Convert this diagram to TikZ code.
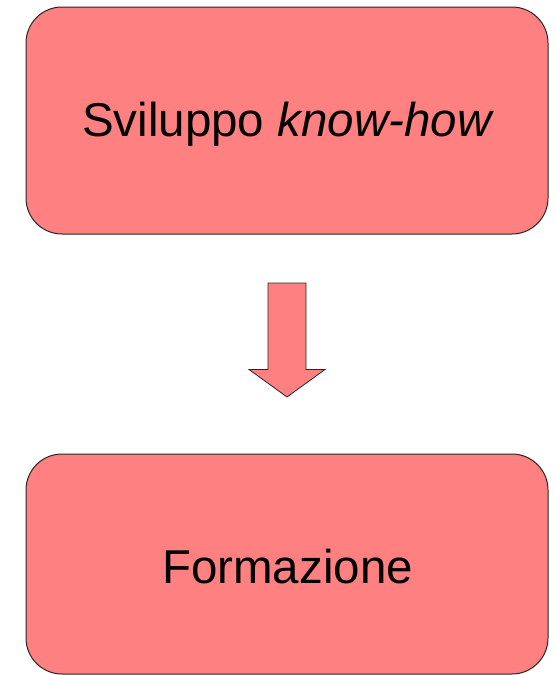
\documentclass[tikz,border=0pt]{standalone}
\usepackage{fontspec}
\setmainfont{Liberation Sans}
\definecolor{rosa}{HTML}{FF8080}
\tikzset{
	caja/.style={draw=black!85, fill=rosa, line width=1pt, rounded corners=36pt, minimum width=522pt, inner sep=0pt},
	texto/.style={anchor=base, inner sep=0pt, font=\fontsize{47.5}{57}\selectfont}
}
\begin{document}
\begin{tikzpicture}[x=1pt, y=-1pt]
	\useasboundingbox (0,0) rectangle (556,675);
	% Caja superior
		\node[caja, minimum height=227pt] (sviluppo) at (287,120.5) {};
		\node[texto] (sviluppotxt) at (288,136) {Sviluppo \textit{know-how}};
	
	% Flecha
		\draw[draw=black!85, fill=rosa, line width=0.8pt] (268,283) -- (306,283) -- (306,369.5) -- (325,369.5) -- (287,397) -- (249,369.5) -- (268,369.5) -- cycle;
	
	% Caja inferior
		\node[caja, minimum height=220pt] (formazione) at (287,564) {};
		\node[texto] (formazionetxt) at (287.5,583) {Formazione};
\end{tikzpicture}
\end{document}
